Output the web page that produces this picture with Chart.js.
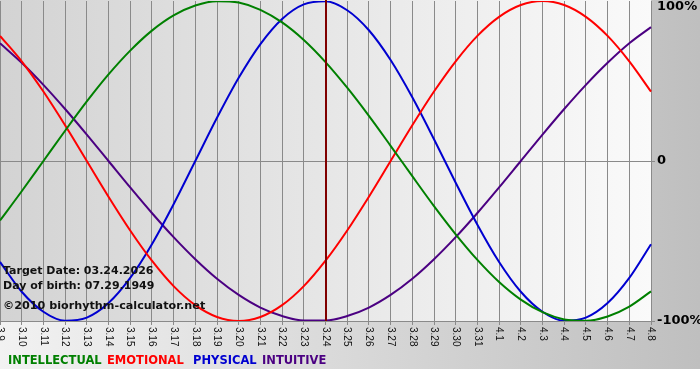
<!DOCTYPE html>
<html>
<head>
<meta charset="utf-8">
<script src="https://cdn.jsdelivr.net/npm/chart.js@4"></script>
<style>
    body { margin: 0; background: #fff; }
    canvas { display: block; }
</style>
</head>
<body>
<canvas id="bioChart" width="700" height="380"></canvas>
<script>
// days shown (month.day)
const days = ['3.9','3.10','3.11','3.12','3.13','3.14','3.15','3.16','3.17','3.18','3.19','3.20',
    '3.21','3.22','3.23','3.24','3.25','3.26','3.27','3.28','3.29','3.30','3.31',
    '4.1','4.2','4.3','4.4','4.5','4.6','4.7','4.8'];

// cycle values in percent, one per day
const intellectual = [-37.2,-18.9,0,18.9,37.2,54.1,69.0,81.5,91.0,97.2,99.9,99.0,94.5,86.6,75.6,61.8,
    45.8,28.2,9.5,-9.5,-28.2,-45.8,-61.8,-75.6,-86.6,-94.5,-99.0,-99.9,-97.2,-91.0,-81.5];
const emotional = [78.2,62.3,43.4,22.3,0,-22.3,-43.4,-62.3,-78.2,-90.1,-97.5,-100,-97.5,-90.1,-78.2,-62.3,
    -43.4,-22.3,0,22.3,43.4,62.3,78.2,90.1,97.5,100,97.5,90.1,78.2,62.3,43.4];
const physical = [-63.1,-81.7,-94.2,-99.8,-97.9,-88.8,-73.1,-52.0,-27.0,0,27.0,52.0,73.1,88.8,97.9,99.8,
    94.2,81.7,63.1,39.8,13.6,-13.6,-39.8,-63.1,-81.7,-94.2,-99.8,-97.9,-88.8,-73.1,-52.0];
const intuitive = [73.6,61.4,47.6,32.5,16.5,0,-16.5,-32.5,-47.6,-61.4,-73.6,-83.7,-91.6,-96.9,-99.7,-99.7,
    -96.9,-91.6,-83.7,-73.6,-61.4,-47.6,-32.5,-16.5,0,16.5,32.5,47.6,61.4,73.6,83.7];

const yTicks = [100, 0, -100];
const yTickLabels = ['100%', '0', '-100%'];
const targetDay = '3.24';
const infoLines = ['Target Date: 03.24.2026', 'Day of birth: 07.29.1949'];
const copyright = '\u00a92010 biorhythm-calculator.net';
const legendNames = ['INTELLECTUAL', 'EMOTIONAL', 'PHYSICAL', 'INTUITIVE'];
const colors = ['#008000', '#ff0000', '#0000d0', '#4b0082'];

const FONT = '"DejaVu Sans", Verdana, sans-serif';

/* ================================
   BACKGROUND + OVERLAYS
================================ */

const backdrop = {
    id: 'backdrop',
    beforeDraw(chart) {
        const { ctx, chartArea: a } = chart;
        ctx.save();
        let g = ctx.createLinearGradient(0, 0, 700, 0);
        g.addColorStop(0, '#f2f2f2');
        g.addColorStop(1, '#bfbfbf');
        ctx.fillStyle = g;
        ctx.fillRect(0, 0, 700, 369);

        g = ctx.createLinearGradient(a.left, 0, a.right, 0);
        g.addColorStop(0, '#d3d3d3');
        g.addColorStop(1, '#fafafa');
        ctx.fillStyle = g;
        ctx.fillRect(a.left, 0, a.right - a.left, a.bottom);
        ctx.restore();
    }
};

const overlays = {
    id: 'overlays',
    afterDatasetsDraw(chart) {
        const { ctx, chartArea: a } = chart;
        const x = chart.scales.x;
        const tx = Math.round(x.getPixelForValue(days.indexOf(targetDay)));
        ctx.save();
        ctx.strokeStyle = '#800000';
        ctx.lineWidth = 2;
        ctx.beginPath();
        ctx.moveTo(tx, 0);
        ctx.lineTo(tx, a.bottom);
        ctx.stroke();
        ctx.restore();
    },
    afterDraw(chart) {
        const { ctx, chartArea: a } = chart;
        const x = chart.scales.x, y = chart.scales.y;
        ctx.save();

        // rotated day labels, reading downwards
        ctx.fillStyle = '#111';
        ctx.font = '10px "Liberation Sans", Arial, sans-serif';
        ctx.textAlign = 'left';
        ctx.textBaseline = 'middle';
        days.forEach((d, i) => {
            ctx.save();
            ctx.translate(x.getPixelForValue(i), a.bottom + 6);
            ctx.rotate(Math.PI / 2);
            ctx.fillText(d, 0, 0);
            ctx.restore();
        });

        // percent labels on the right
        ctx.font = 'bold 13px ' + FONT;
        ctx.fillStyle = '#000';
        yTicks.forEach((v, i) => {
            const py = Math.max(y.getPixelForValue(v), 7);
            ctx.fillText(yTickLabels[i], a.right + 6, py);
        });

        // info text
        ctx.font = 'bold 11px ' + FONT;
        ctx.fillStyle = '#111';
        ctx.fillText(infoLines[0], 3, 271);
        ctx.fillText(infoLines[1], 3, 286);
        ctx.font = 'bold 11.2px ' + FONT;
        ctx.fillText(copyright, 3, 306);

        // legend row
        ctx.font = 'bold 11.5px ' + FONT;
        const legendX = [8, 107, 193, 262];
        legendNames.forEach((n, i) => {
            ctx.fillStyle = colors[i];
            ctx.fillText(n, legendX[i], 361);
        });
        ctx.restore();
    }
};

/* ================================
   CHART
================================ */

const series = [intellectual, emotional, physical, intuitive];

new Chart(document.getElementById('bioChart'), {
    type: 'line',
    data: {
        labels: days,
        datasets: series.map((s, i) => ({
            label: legendNames[i],
            data: s,
            borderColor: colors[i],
            borderWidth: 2,
            pointRadius: 0,
            cubicInterpolationMode: 'monotone',
            fill: false
        }))
    },
    options: {
        responsive: false,
        animation: false,
        layout: { padding: { top: 1, left: 0, right: 0, bottom: 0 } },
        plugins: { legend: { display: false }, tooltip: { enabled: false } },
        scales: {
            x: {
                offset: false,
                ticks: { display: false },
                grid: { color: '#8a8a8a', lineWidth: 1, tickLength: 4, drawTicks: true },
                border: { color: '#8a8a8a' },
                afterFit(scale) { scale.height = 59; }
            },
            y: {
                position: 'right',
                min: -100,
                max: 100,
                ticks: { display: false, stepSize: 100 },
                grid: {
                    color: c => (c.tick && c.tick.value !== 100) ? '#8a8a8a' : 'transparent',
                    tickLength: 4
                },
                border: { color: '#8a8a8a' },
                afterFit(scale) { scale.width = 49; }
            }
        }
    },
    plugins: [backdrop, overlays]
});
</script>
</body>
</html>
